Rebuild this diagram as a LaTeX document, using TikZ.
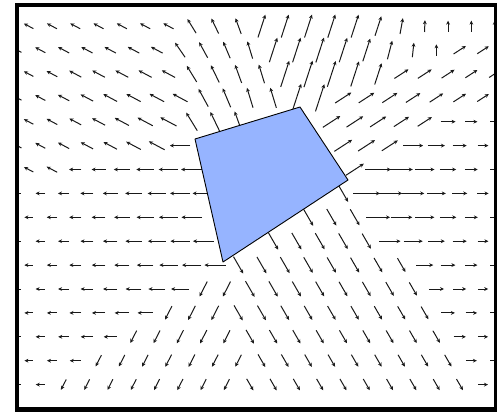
\documentclass[tikz,border=0pt]{standalone}
\usetikzlibrary{arrows.meta}
\definecolor{polyblue}{RGB}{150,180,255}
\tikzset{
  qv/.style={line width=1pt, black!90, -{Stealth[length=4pt,width=3.8pt]}},
  framestyle/.style={line width=4.5pt, black},
  polystyle/.style={fill=polyblue, draw=black, line width=0.9pt, line join=round}
}
\begin{document}
\begin{tikzpicture}[x=1pt,y=-1pt]
\useasboundingbox (0,0) rectangle (497,412);
\coordinate (FTL) at (17,5);
\coordinate (FBR) at (496,409.5);
\coordinate (A) at (195,139);
\coordinate (B) at (300,107);
\coordinate (C) at (348,180);
\coordinate (D) at (223,262);
\begin{scope}
\clip (17,5) rectangle (495,409);
\foreach \rr in {0,...,15}{
 \foreach \kk in {0,...,20}{
  \pgfmathsetmacro\py{26.1+23.9*\rr}
  \pgfmathsetmacro\px{(mod(\rr,2)==1 ? 17 : 28.65)+23.3*\kk}
  \pgfmathsetmacro\sAB{0.95655*(\py-139)+0.29152*(\px-195)}
  \pgfmathsetmacro\sBC{0.54939*(\py-107)-0.83553*(\px-300)}
  \pgfmathsetmacro\sCD{-0.83612*(\py-180)-0.54849*(\px-348)}
  \pgfmathsetmacro\sDA{-0.22196*(\py-262)+0.97504*(\px-223)}
  \pgfmathtruncatemacro\inside{(\sAB>0 && \sBC>0 && \sCD>0 && \sDA>0) ? 1 : 0}
  \ifnum\inside=0\relax
   \pgfmathsetmacro\sOne{-0.97684*(\py-139)-0.21403*(\px-195)}
   \pgfmathsetmacro\sTwo{-0.21847*(\py-139)+0.97583*(\px-195)}
   \pgfmathsetmacro\sBB{-0.44015*(\py-107)+0.89792*(\px-300)}
   \pgfmathsetmacro\sThree{0.93809*(\py-107)+0.34637*(\px-300)}
   \pgfmathsetmacro\sFour{0.85799*(\py-180)+0.51363*(\px-348)}
   \pgfmathsetmacro\sFive{0.54020*(\py-180)-0.84154*(\px-348)}
   \pgfmathsetmacro\sSix{0.18065*(\py-262)-0.98355*(\px-223)}
   \pgfmathsetmacro\sSeven{-0.81400*(\py-262)-0.58087*(\px-223)}
   \pgfmathtruncatemacro\reg{(\sOne>0 && \sTwo<0) ? 1 : ((\sTwo>-0.0001 && \sBB<0 && \sAB<0) ? 2 : ((\sBB>-0.0001 && \sThree<0) ? 3 : ((\sThree>-0.0001 && \sFour<0 && \sBC<0) ? 4 : ((\sFour>-0.0001 && \sFive<0) ? 5 : ((\sFive>-0.0001 && \sSix<0 && \sCD<0) ? 6 : ((\sSix>-0.0001 && \sSeven<0) ? 7 : 8))))))}
   \pgfmathsetmacro\dwall{max(1,min(min(\px-17,495-\px),min(\py-5,409-\py)))}
   \pgfmathsetmacro\dpoly{max(0,max(max(0-(\sAB),0-(\sBC)),max(0-(\sCD),0-(\sDA))))}
   \pgfmathsetmacro\phiv{\dwall/(\dwall+\dpoly+0.01)}
   \ifcase\reg\relax
   \or
     \def\ang{152}\def\lmax{20}\def\amin{0.5}
   \or
     \pgfmathsetmacro\ang{107+min(18,max(0,(250-\px)*0.25))}\def\lmax{22}\def\amin{0.7}
   \or
     \pgfmathsetmacro\ang{72+min(18,max(0,(\px-380)*0.36))}
     \pgfmathsetmacro\lmax{30-min(16,max(0,(\px-360)*0.23))}\def\amin{0.75}
   \or
     \def\ang{33}\def\lmax{22}\def\amin{0.6}
   \or
     \def\ang{0}\def\lmax{30}\def\amin{0.3}
   \or
     \def\ang{-60}\def\lmax{20}\def\amin{0.6}
   \or
     \def\ang{-117}\def\lmax{18}\def\amin{0.6}
   \or
     \def\ang{180}\def\lmax{22}\def\amin{0.35}
   \fi
   \pgfmathsetmacro\alen{\lmax*(\amin+(1-\amin)*\phiv)}
   \coordinate (P) at (\px,\py);
   \draw[qv] (P) ++({-0.5*\alen*cos(\ang)},{0.5*\alen*sin(\ang)}) -- ++({\alen*cos(\ang)},{-\alen*sin(\ang)});
  \fi
 }
}
\end{scope}
\draw[polystyle] (A) -- (B) -- (C) -- (D) -- cycle;
\draw[framestyle] (FTL) rectangle (FBR);
\end{tikzpicture}
\end{document}
